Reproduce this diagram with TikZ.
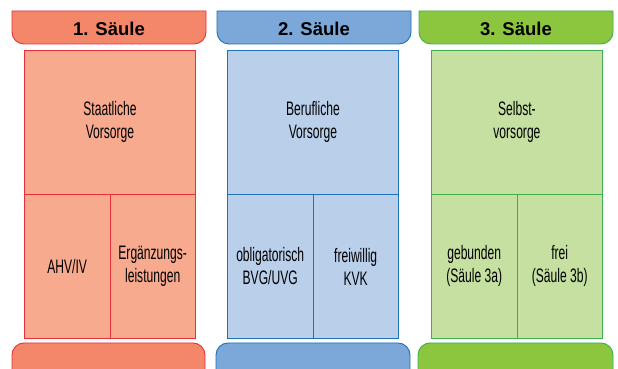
\documentclass[tikz,border=0pt]{standalone}
\usepackage{fontspec}
\setmainfont{Liberation Sans}
\newfontfamily\condfont[FakeStretch=0.62]{Liberation Sans}
\definecolor{rhead}{HTML}{F4876A}
\definecolor{rbody}{HTML}{F8AA8E}
\definecolor{rline}{HTML}{E8303A}
\definecolor{bhead}{HTML}{7BA7D9}
\definecolor{bbody}{HTML}{B9CFEA}
\definecolor{bline}{HTML}{1F72B8}
\definecolor{ghead}{HTML}{8CC63F}
\definecolor{gbody}{HTML}{C5E0A0}
\definecolor{gline}{HTML}{3DB04B}
\tikzset{
  hdrtext/.style={font=\fontsize{18.5}{20}\selectfont\bfseries, text=black},
  cell/.style={draw=#1, line width=0.9pt, inner sep=0pt, align=center,
    font=\condfont\fontsize{19.5}{23}\selectfont, anchor=north west},
  topcell/.style={cell=#1, minimum width=171pt, minimum height=144pt},
  halfcell/.style={cell=#1, minimum width=85.5pt, minimum height=144pt},
}
\begin{document}
\begin{tikzpicture}[x=1pt,y=1pt]
\clip (0,0) rectangle (618,369);
\fill[white] (0,0) rectangle (618,369);
% Column 1
\path[fill=rhead, draw=rline, line width=0.9pt] (12,358) -- (12,337) arc[start angle=180,end angle=270,radius=12pt] -- (194,325) arc[start angle=270,end angle=360,radius=12pt] -- (206,358) -- cycle;
\node[hdrtext] (h1) at (109,340) {1. Säule};
\node[topcell=rline, fill=rbody] (t1) at (24,319) {Staatliche\\Vorsorge};
\node[halfcell=rline, fill=rbody] (a1) at (24,175) {AHV/IV};
\node[halfcell=rline, fill=rbody] (b1) at (109.5,175) {Ergänzungs-\\leistungen};
\path[fill=rhead, draw=rline, line width=0.9pt] (12,-5) -- (12,14) arc[start angle=180,end angle=90,radius=12pt] -- (193,26) arc[start angle=90,end angle=0,radius=12pt] -- (205,-5) -- cycle;
% Column 2
\path[fill=bhead, draw=bline, line width=0.9pt] (217,358) -- (217,337) arc[start angle=180,end angle=270,radius=12pt] -- (399,325) arc[start angle=270,end angle=360,radius=12pt] -- (411,358) -- cycle;
\node[hdrtext] (h2) at (314,340) {2. Säule};
\node[topcell=bline, fill=bbody] (t2) at (227,319) {Berufliche\\Vorsorge};
\node[halfcell=bline, fill=bbody] (a2) at (227,175) {obligatorisch\\BVG/UVG};
\node[halfcell=bline, fill=bbody] (b2) at (312.5,175) {freiwillig\\KVK};
\path[fill=bhead, draw=bline, line width=0.9pt] (216,-5) -- (216,14) arc[start angle=180,end angle=90,radius=12pt] -- (398,26) arc[start angle=90,end angle=0,radius=12pt] -- (410,-5) -- cycle;
% Column 3
\path[fill=ghead, draw=gline, line width=0.9pt] (419,358) -- (419,337) arc[start angle=180,end angle=270,radius=12pt] -- (601,325) arc[start angle=270,end angle=360,radius=12pt] -- (613,358) -- cycle;
\node[hdrtext] (h3) at (516,340) {3. Säule};
\node[topcell=gline, fill=gbody] (t3) at (431,319) {Selbst-\\vorsorge};
\node[halfcell=gline, fill=gbody] (a3) at (431,175) {gebunden\\(Säule 3a)};
\node[halfcell=gline, fill=gbody] (b3) at (516.5,175) {frei\\(Säule 3b)};
\path[fill=ghead, draw=gline, line width=0.9pt] (418,-5) -- (418,14) arc[start angle=180,end angle=90,radius=12pt] -- (601,26) arc[start angle=90,end angle=0,radius=12pt] -- (613,-5) -- cycle;
\end{tikzpicture}
\end{document}
